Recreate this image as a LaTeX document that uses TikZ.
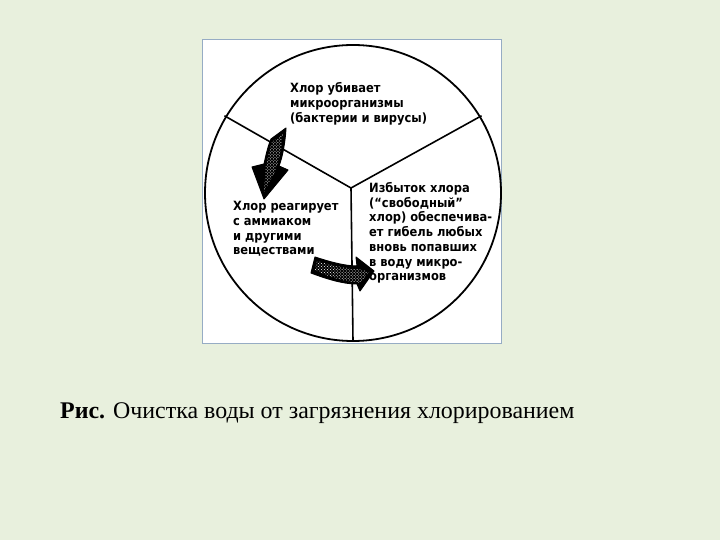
\documentclass[tikz,border=0pt]{standalone}
\usepackage{fontspec}
\setmainfont{Liberation Serif}
\newfontfamily\handfont{DejaVu Sans Condensed}
\usetikzlibrary{calc,patterns,positioning}
\definecolor{slidebg}{RGB}{232,240,221}
\definecolor{frameblue}{RGB}{150,172,196}

\tikzset{
  note/.style={font=\handfont\bfseries\fontsize{12.8}{14.8}\selectfont, align=left, inner sep=0pt},
  fatarrow/.style={fill=black, draw=black, line width=1pt, line join=round},
  speckle/.style={pattern=crosshatch dots, pattern color=white}
}

\begin{document}
\begin{tikzpicture}[x=1bp,y=-1bp]

\fill[slidebg] (0,0) rectangle (720,540);
\useasboundingbox (0,0) rectangle (720,540);

\coordinate (cBoxAPt) at (202,39);
\coordinate (cBoxBPt) at (501,343);
\coordinate (cCtrPt) at (353,193);
\coordinate (cHubPt) at (351,188);
\coordinate (cLeftPt) at ($(cCtrPt)+(211:150)$);
\coordinate (cRightPt) at ($(cCtrPt)+(329:150)$);
\coordinate (cLowPt) at ($(cCtrPt)+(90:148)$);

\filldraw[fill=white, draw=frameblue, line width=0.8pt] (cBoxAPt) rectangle (cBoxBPt);

\draw[line width=1.8pt] (cCtrPt) circle (148);

\foreach \v in {cLeftPt, cRightPt, cLowPt}
{
    \draw[line width=1.6pt] (cHubPt) -- (\v);
};

% curved arrows
\filldraw[fatarrow] (271,139) -- (286,128) .. controls (285,145) and (282,158) .. (279,166)
    -- (288,170) -- (264,199) -- (252,167) -- (264,164)
    .. controls (266,155) and (268,146) .. (271,139) -- cycle;
\fill[speckle] (272,142) -- (283,134) .. controls (282,148) and (279,160) .. (276,170)
    -- (264,192) -- (266,166) .. controls (268,156) and (270,148) .. (272,142) -- cycle;

\filldraw[fatarrow] (315,257) .. controls (330,262) and (345,266) .. (357,266)
    -- (356,257) -- (374,271) -- (360,291) -- (357,284)
    .. controls (343,284) and (327,279) .. (311,273) -- cycle;
\fill[speckle] (317,261) .. controls (331,265) and (346,269) .. (359,269)
    -- (369,272) -- (360,283)
    .. controls (343,281) and (328,277) .. (315,270) -- cycle;

\node[note, anchor=west] (nKill) at (290,104)
    {Хлор убивает\\микроорганизмы\\(бактерии и вирусы)};
\node[note, anchor=west] (nReact) at (233,229)
    {Хлор реагирует\\с аммиаком\\и другими\\веществами};
\node[note, anchor=west] (nExcess) at (369,233)
    {Избыток хлора\\(“свободный”\\хлор) обеспечива-\\ет гибель любых\\вновь попавших\\в воду микро-\\организмов};

\node[anchor=base west, inner sep=0pt, font=\fontsize{24}{26}\selectfont] (nCaption) at (60,418)
    {\textbf{Рис.} Очистка воды от загрязнения хлорированием};

\end{tikzpicture}
\end{document}
